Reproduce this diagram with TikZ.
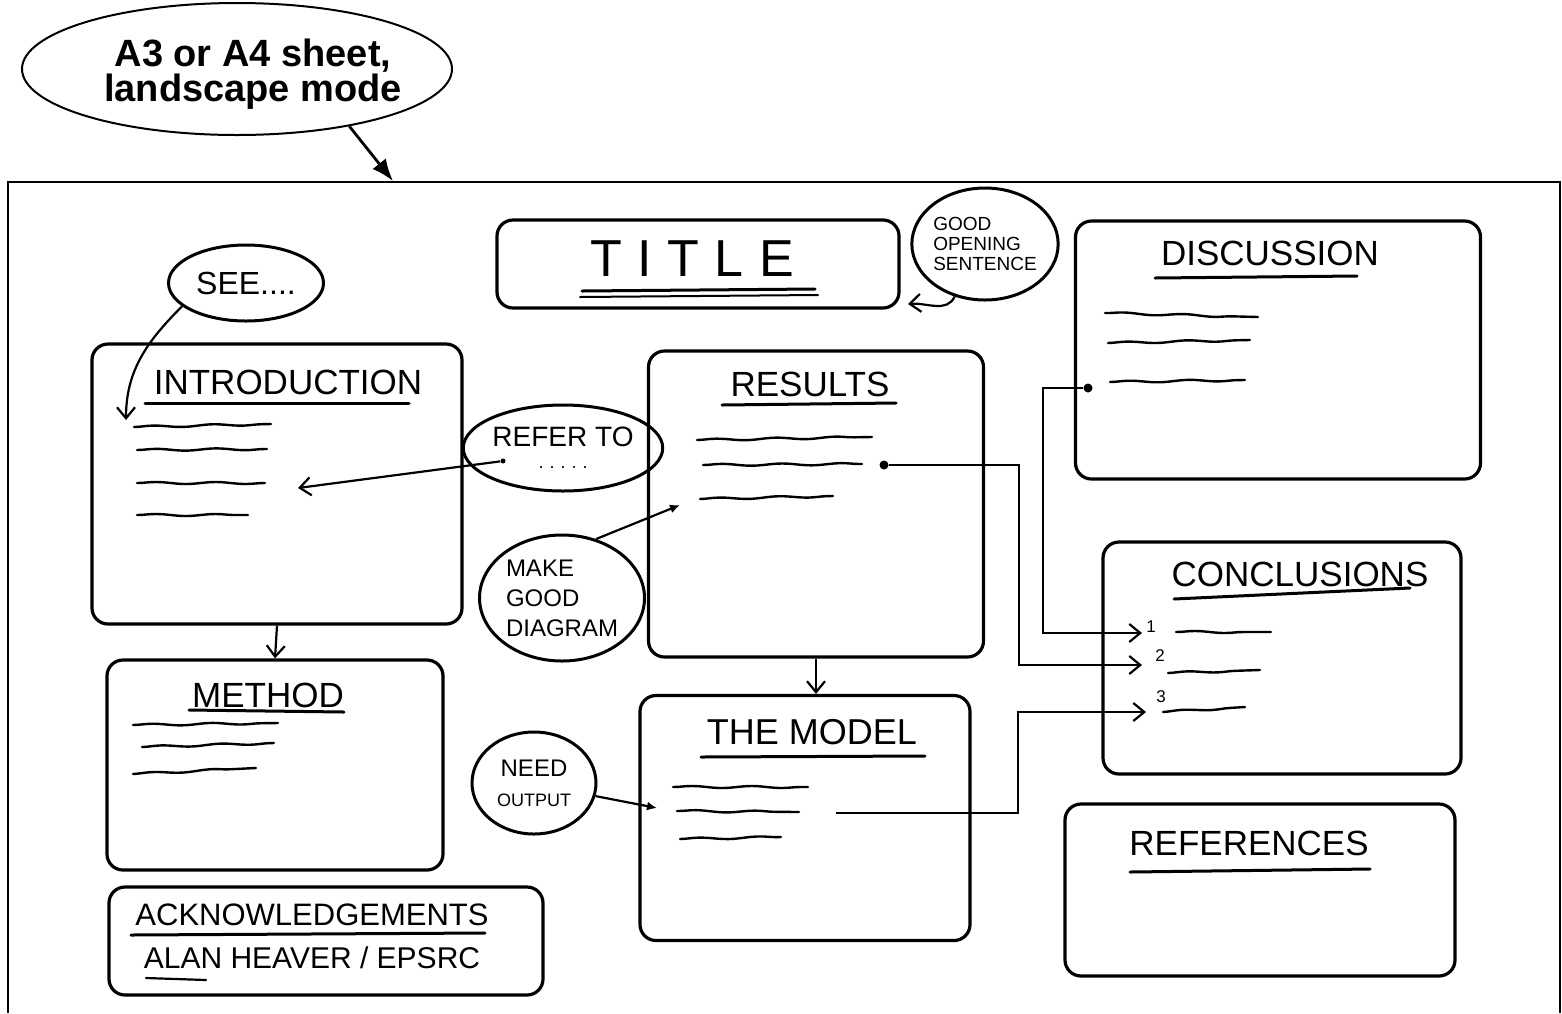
\documentclass[tikz,border=0pt]{standalone}
\usepackage{fontspec}
\setmainfont{Liberation Sans}
\usetikzlibrary{arrows.meta, shapes.geometric, decorations.pathmorphing}
\tikzset{every picture/.style={line width=0.75pt}}
\tikzset{
  sheet/.style={line width=2pt},
  callout/.style={ellipse, draw, line width=2pt, inner sep=0pt},
  callouttext/.style={align=center, font=\fontsize{38}{35}\selectfont\bfseries},
  part/.style={draw, line width=3.2pt, rounded corners=16pt},
  bubble/.style={ellipse, draw, line width=3pt, inner sep=0pt},
  heading/.style={font=\fontsize{35}{40}\selectfont},
  uline/.style={line width=3pt, line cap=round},
  scribble/.style={line width=2.4pt, line cap=round, decorate, decoration={snake, segment length=60pt, amplitude=1pt}},
  dot/.style={circle, fill, inner sep=0pt, minimum size=9pt},
  num/.style={font=\fontsize{17}{20}\selectfont, inner sep=1pt},
  link/.style={line width=2.2pt},
  arr/.style={link, -{Straight Barb[length=11pt, width=18pt]}},
  pointer/.style={link, -{Latex[length=10pt, width=9pt]}},
  bigarr/.style={line width=2.8pt, -{Latex[length=22pt, width=17pt]}},
}
\begin{document}
\begin{tikzpicture}[x=1pt,y=1pt,yscale=-1,xscale=1]
    \useasboundingbox (0,0) rectangle (1562,1013);
    \draw[sheet] (8,1013) -- (8,182) -- (1560,182) -- (1560,1013);
    \node[callout, minimum width=430pt, minimum height=132pt] (sheetnote) at (237,69) {};
    \node[callouttext] (sheetnotetext) at (253,74) {A3 or A4 sheet,\\landscape mode};
    \coordinate (sheetcorner) at (393,181);
    \draw[bigarr] (sheetnote.-27) -- (sheetcorner);

    % title row
    \node[part, minimum width=402pt, minimum height=88pt] (title) at (698,264) {};
    \node[font=\fontsize{52}{56}\selectfont\addfontfeature{LetterSpace=30}] (titletext) at (692,259) {TITLE};
    \draw[uline] (582,291) -- (815,289);
    \draw[uline, line width=2pt] (580,297) -- (818,295);
    \node[bubble, minimum width=146pt, minimum height=112pt, align=left, font=\fontsize{19}{20}\selectfont] (opening) at (985,244) {GOOD\\OPENING\\SENTENCE};
    \coordinate (titlecorner) at (908,304);
    \draw[arr] (opening.240) to[out=115, in=-5] (titlecorner);

    \node[part, minimum width=405pt, minimum height=258pt] (discussion) at (1278,350) {};
    \node[heading] (discussionhead) at (1270,253) {DISCUSSION};
    \draw[uline] (1155,278) -- (1357,276);
    \draw[scribble] (1105,313) -- (1258,317);
    \draw[scribble] (1108,343) -- (1250,340);
    \draw[scribble] (1110,382) -- (1245,380);
    \node[dot] (discdot) at (1088,388) {};

    % left column
    \node[bubble, minimum width=155pt, minimum height=76pt, font=\fontsize{32}{36}\selectfont] (see) at (246,283) {SEE....};
    \node[part, minimum width=370pt, minimum height=280pt] (intro) at (277,484) {};
    \node[heading] (introhead) at (288,382) {INTRODUCTION};
    \draw[uline] (145,403) -- (409,403);
    \draw[scribble] (134,427) -- (271,424);
    \draw[scribble] (137,450) -- (267,449);
    \draw[scribble] (137,483) -- (265,483);
    \draw[scribble] (137,515) -- (248,515);
    \coordinate (seeend) at (126,420);
    \draw[arr] (see.200) to[out=135, in=-90] (seeend);

    \node[part, minimum width=336pt, minimum height=210pt] (method) at (275,765) {};
    \node[heading] (methodhead) at (268,695) {METHOD};
    \draw[uline] (189,710) -- (344,712);
    \draw[scribble] (133,725) -- (278,723);
    \draw[scribble] (142,747) -- (274,743);
    \draw[scribble] (133,774) -- (256,768);
    \draw[arr] (intro.south) -- (method.north);

    \node[part, minimum width=434pt, minimum height=108pt] (thanks) at (326,941) {};
    \node[font=\fontsize{31}{36}\selectfont] (thankshead) at (312,915) {ACKNOWLEDGEMENTS};
    \draw[uline] (131,935) -- (485,933);
    \node[font=\fontsize{30}{36}\selectfont] (thanksname) at (312,958) {ALAN HEAVER / EPSRC};
    \draw[uline, line width=2.2pt] (146,978) -- (206,980);

    % middle column
    \node[bubble, minimum width=172pt, minimum height=86pt, align=center, font=\fontsize{28}{24}\selectfont] (refer) at (563,448) {REFER TO\\[-2pt]{\fontsize{18}{20}\selectfont .\,\,.\,\,.\,\,.\,\,.}};
    \node[dot, minimum size=5pt] (referdot) at (503,461) {};
    \coordinate (referend) at (298,488);
    \draw[arr] (referdot) -- (referend);
    \node[bubble, minimum width=165pt, minimum height=126pt, align=left, font=\fontsize{24}{30}\selectfont] (diagram) at (562,598) {MAKE\\GOOD\\DIAGRAM};
    \coordinate (diagramend) at (680,505);
    \draw[pointer] (diagram.60) -- (diagramend);
    \node[bubble, minimum width=124pt, minimum height=102pt, align=center, font=\fontsize{24}{30}\selectfont] (need) at (534,783) {NEED\\{\fontsize{18}{20}\selectfont OUTPUT}};
    \coordinate (needend) at (657,808);
    \draw[pointer] (need.-12) -- (needend);

    \node[part, minimum width=335pt, minimum height=306pt] (results) at (816,504) {};
    \node[heading] (resultshead) at (810,384) {RESULTS};
    \draw[uline] (722,405) -- (896,403);
    \draw[scribble] (697,440) -- (872,437);
    \draw[scribble] (703,465) -- (862,464);
    \draw[scribble] (700,499) -- (833,496);
    \node[dot] (resdot) at (884,465) {};

    \node[part, minimum width=330pt, minimum height=245pt] (model) at (805,818) {};
    \node[font=\fontsize{36}{40}\selectfont] (modelhead) at (812,732) {THE MODEL};
    \draw[uline] (701,757) -- (925,756);
    \draw[scribble] (673,787) -- (808,787);
    \draw[scribble] (677,811) -- (799,812);
    \draw[scribble] (680,839) -- (781,837);
    \coordinate (modelout) at (836,813);
    \draw[arr] (results.south) -- (results.south |- model.north);

    % right column
    \node[part, minimum width=358pt, minimum height=232pt] (conclusions) at (1282,658) {};
    \node[heading] (conclusionshead) at (1300,574) {CONCLUSIONS};
    \draw[uline] (1174,599) -- (1410,588);
    \node[num] (one) at (1151,627) {1};
    \node[num] (two) at (1160,656) {2};
    \node[num] (three) at (1161,697) {3};
    \draw[scribble] (1176,632) -- (1271,632);
    \draw[scribble] (1168,673) -- (1260,670);
    \draw[scribble] (1163,712) -- (1245,707);
    \coordinate (c1) at (1142,633);
    \coordinate (c2) at (1142,665);
    \coordinate (c3) at (1146,712);
    \draw[arr] (discdot) -- ++(-45,0) |- (c1);
    \draw[arr] (resdot) -- ++(135,0) |- (c2);
    \draw[arr] (modelout) -- ++(182,0) |- (c3);

    \node[part, minimum width=390pt, minimum height=172pt] (references) at (1260,890) {};
    \node[heading] (referenceshead) at (1249,843) {REFERENCES};
    \draw[uline] (1130,872) -- (1370,869);
\end{tikzpicture}
\end{document}
